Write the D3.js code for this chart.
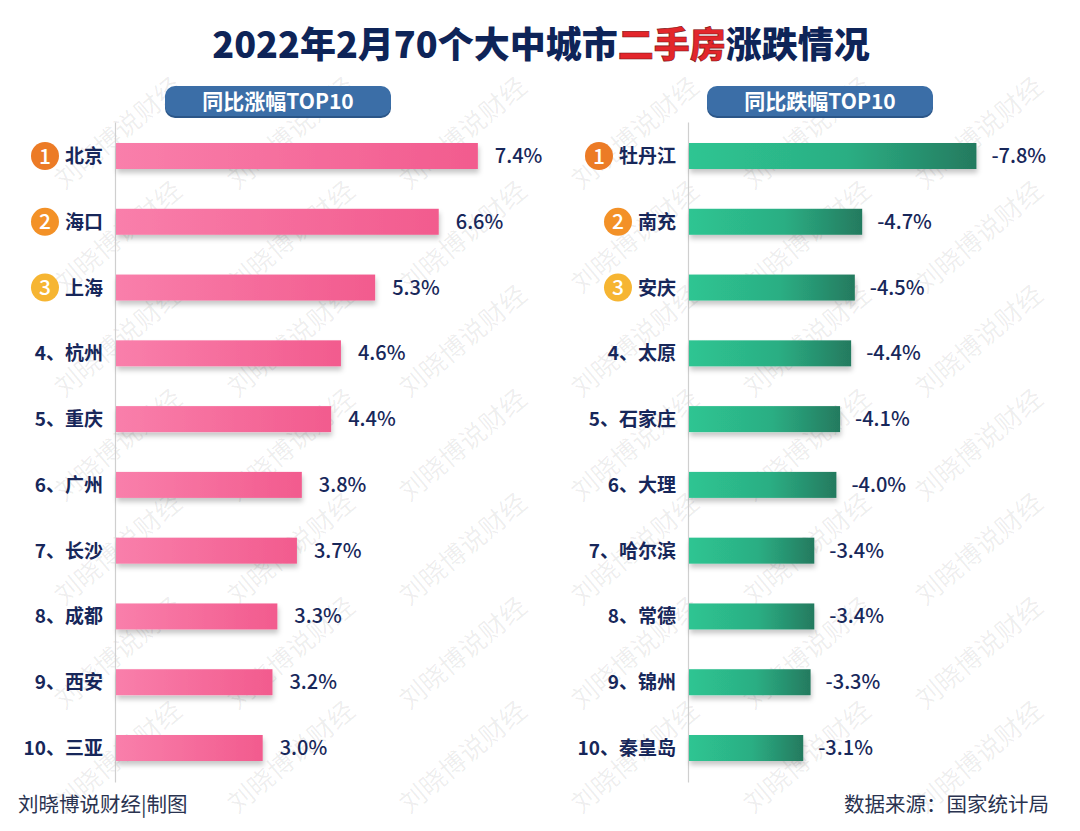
<!DOCTYPE html>
<html><head><meta charset="utf-8">
<script src="https://cdn.jsdelivr.net/npm/d3@7"></script>
<style>
html,body{margin:0;padding:0;background:#fff;}
svg{display:block;font-family:"Noto Sans CJK SC","Noto Sans",sans-serif;}
</style></head>
<body>
<svg id="chart" width="1080" height="831"></svg>
<script>
// ---- data ----
const titleParts = ["2022年2月70个大中城市", "二手房", "涨跌情况"];
const upTitle = "同比涨幅TOP10";
const downTitle = "同比跌幅TOP10";
const upCities = ["北京","海口","上海","杭州","重庆","广州","长沙","成都","西安","三亚"];
const upValues = [7.4,6.6,5.3,4.6,4.4,3.8,3.7,3.3,3.2,3.0];
const downCities = ["牡丹江","南充","安庆","太原","石家庄","大理","哈尔滨","常德","锦州","秦皇岛"];
const downValues = [-7.8,-4.7,-4.5,-4.4,-4.1,-4.0,-3.4,-3.4,-3.3,-3.1];
const ranks = [1,2,3,4,5,6,7,8,9,10];
const footerLeft = "刘晓博说财经|制图";
const footerRight = "数据来源：国家统计局";
const watermark = "刘晓博说财经";

const svg = d3.select("#chart");
const W = 1080, H = 831;
const navy = "#17275a";

// defs
const defs = svg.append("defs");
const gPink = defs.append("linearGradient").attr("id","gPink").attr("x1","0").attr("x2","1").attr("y1","0").attr("y2","0");
gPink.append("stop").attr("offset","0%").attr("stop-color","#f97fab");
gPink.append("stop").attr("offset","100%").attr("stop-color","#f25b8e");
const gGreen = defs.append("linearGradient").attr("id","gGreen").attr("x1","0").attr("x2","1").attr("y1","0").attr("y2","0");
gGreen.append("stop").attr("offset","0%").attr("stop-color","#2ec592");
gGreen.append("stop").attr("offset","55%").attr("stop-color","#2bae83");
gGreen.append("stop").attr("offset","100%").attr("stop-color","#247a5f");
const sh = defs.append("filter").attr("id","sh").attr("x","-5%").attr("y","-30%").attr("width","110%").attr("height","180%");
sh.append("feDropShadow").attr("dx",1).attr("dy",4).attr("stdDeviation",2.5).attr("flood-color","#000").attr("flood-opacity",0.22);

svg.append("rect").attr("width",W).attr("height",H).attr("fill","#fff");

// watermark (behind everything)
const wm = svg.append("g").attr("pointer-events","none");
const wmCols = [124, 297, 469, 641, 813, 985];
const wmRows = [140, 244, 348, 452, 556, 660, 764];
wmRows.forEach(yy=>{
  wmCols.forEach(x=>{
    wm.append("text").attr("x",x).attr("y",yy).attr("text-anchor","middle")
      .attr("transform",`rotate(-40,${x},${yy})`)
      .attr("font-size",26).attr("fill","#000").attr("fill-opacity",0.07).text(watermark);
  });
});

// title
const t = svg.append("text").attr("x",541).attr("y",58).attr("text-anchor","middle")
  .attr("font-size",36).attr("font-weight",900).attr("fill","#0e2458");
t.append("tspan").text(titleParts[0]);
t.append("tspan").attr("fill","#e3262b").attr("stroke","#7a1010").attr("stroke-width",0.6).text(titleParts[1]);
t.append("tspan").text(titleParts[2]);

// pills
function pill(cx, label){
  const g = svg.append("g");
  g.append("rect").attr("x",cx-113).attr("y",88).attr("width",226).attr("height",30).attr("rx",10)
    .attr("fill","#2b5688");
  g.append("rect").attr("x",cx-113).attr("y",86).attr("width",226).attr("height",30).attr("rx",10)
    .attr("fill","#3b6ea7");
  g.append("text").attr("x",cx).attr("y",109).attr("text-anchor","middle").attr("font-size",21)
    .attr("font-weight",700).attr("fill","#fff").text(label);
}
pill(278, upTitle);
pill(820, downTitle);

// scales
const y = d3.scalePoint().domain(ranks).range([156, 748]);
const barH = 26;
const xL = d3.scaleLinear().domain([0,8]).range([116, 116 + 8*48.9]);
const xR = d3.scaleLinear().domain([0,8]).range([689, 689 + 8*36.85]);

const rankColors = ["#ec7b26","#f39127","#f6b532"];

function panel(cities, values, xs, axisX, labelEnd, fill, valOffset){
  // axis line
  const axis = d3.axisLeft(d3.scaleLinear().range([122,782])).ticks(0).tickSize(0).tickFormat("");
  const ga = svg.append("g").attr("transform",`translate(${axisX},0)`).call(axis);
  ga.select(".domain").attr("stroke","#cfcfcf").attr("stroke-width",1.2);

  // bars
  svg.append("g").selectAll("rect").data(values).join("rect")
    .attr("x", xs(0))
    .attr("y",(d,i)=>y(ranks[i]) - barH/2)
    .attr("width", d=>xs(Math.abs(d)) - xs(0))
    .attr("height", barH)
    .attr("fill", fill)
    .attr("filter","url(#sh)");

  // value labels
  svg.append("g").selectAll("text").data(values).join("text")
    .attr("x", d=>xs(Math.abs(d)) + valOffset)
    .attr("y",(d,i)=>y(ranks[i]) + 7)
    .attr("font-size",20).attr("font-weight",500).attr("fill",navy)
    .text(d=>d.toFixed(1)+"%");

  // category labels
  const lg = svg.append("g");
  cities.forEach((c,i)=>{
    const r = ranks[i];
    const cy = y(r);
    const txt = lg.append("text").attr("x",labelEnd).attr("y",cy+7).attr("text-anchor","end")
      .attr("font-size",19).attr("font-weight",700).attr("fill",navy)
      .text(r<=3 ? c : r+"、"+c);
    if(r<=3){
      const w = txt.node().getComputedTextLength();
      const ccx = labelEnd - w - 20;
      lg.append("circle").attr("cx",ccx).attr("cy",cy).attr("r",14).attr("fill",rankColors[r-1]);
      lg.append("text").attr("x",ccx).attr("y",cy+7.5).attr("text-anchor","middle")
        .attr("font-size",21).attr("font-weight",500).attr("fill","#fff").text(r);
    }
  });
}
panel(upCities, upValues, xL, 115, 103, "url(#gPink)", 17);
panel(downCities, downValues, xR, 688, 676, "url(#gGreen)", 15);

// footer
svg.append("text").attr("x",18).attr("y",812).attr("font-size",20.5).attr("fill","#2a3350").text(footerLeft);
svg.append("text").attr("x",1049).attr("y",812).attr("text-anchor","end").attr("font-size",20.5).attr("fill","#2a3350").text(footerRight);
</script>
</body></html>
